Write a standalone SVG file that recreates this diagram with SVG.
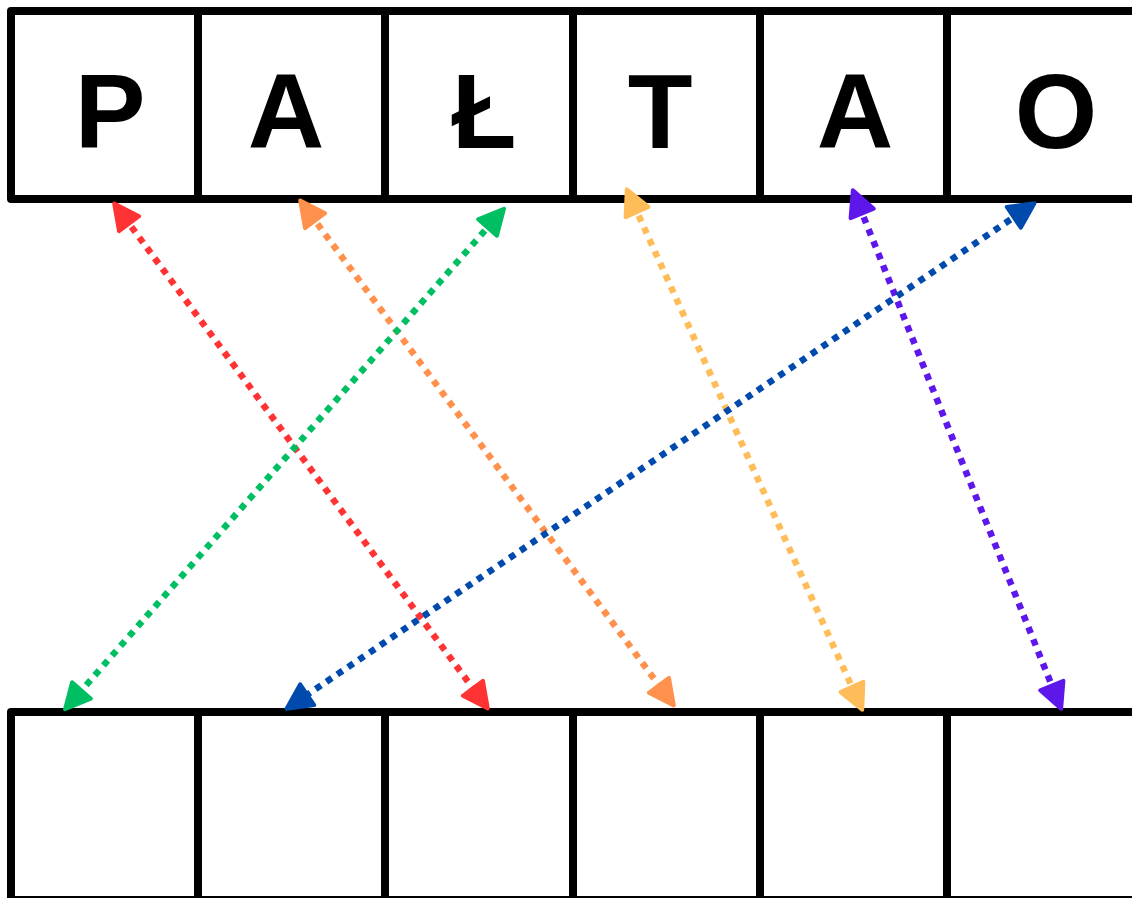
<svg xmlns="http://www.w3.org/2000/svg" width="1132" height="898" viewBox="0 0 1132 898">
<style>
.cell{fill:#fff;stroke:#000;stroke-width:8;stroke-linejoin:round}
.div{stroke:#000;stroke-width:8}
.let{font-family:"Liberation Sans",Arial,sans-serif;font-weight:bold;font-size:106px;text-anchor:middle;fill:#000}
.c{fill:none;stroke-width:6.5;stroke-dasharray:6.5 6.5}
</style>
<defs>
<marker id="mr" viewBox="-3 -3 31 31" refX="22" refY="12.5" markerWidth="31" markerHeight="31" markerUnits="userSpaceOnUse" orient="auto-start-reverse"><path d="M0,0 L25,12.5 L0,25 z" fill="#ff3333" stroke="#ff3333" stroke-width="4" stroke-linejoin="round"/></marker>
<marker id="mo" viewBox="-3 -3 31 31" refX="22" refY="12.5" markerWidth="31" markerHeight="31" markerUnits="userSpaceOnUse" orient="auto-start-reverse"><path d="M0,0 L25,12.5 L0,25 z" fill="#ff914d" stroke="#ff914d" stroke-width="4" stroke-linejoin="round"/></marker>
<marker id="mg" viewBox="-3 -3 31 31" refX="22" refY="12.5" markerWidth="31" markerHeight="31" markerUnits="userSpaceOnUse" orient="auto-start-reverse"><path d="M0,0 L25,12.5 L0,25 z" fill="#00bf63" stroke="#00bf63" stroke-width="4" stroke-linejoin="round"/></marker>
<marker id="my" viewBox="-3 -3 31 31" refX="22" refY="12.5" markerWidth="31" markerHeight="31" markerUnits="userSpaceOnUse" orient="auto-start-reverse"><path d="M0,0 L25,12.5 L0,25 z" fill="#ffbd59" stroke="#ffbd59" stroke-width="4" stroke-linejoin="round"/></marker>
<marker id="mp" viewBox="-3 -3 31 31" refX="22" refY="12.5" markerWidth="31" markerHeight="31" markerUnits="userSpaceOnUse" orient="auto-start-reverse"><path d="M0,0 L25,12.5 L0,25 z" fill="#5e17eb" stroke="#5e17eb" stroke-width="4" stroke-linejoin="round"/></marker>
<marker id="mb" viewBox="-3 -3 31 31" refX="22" refY="12.5" markerWidth="31" markerHeight="31" markerUnits="userSpaceOnUse" orient="auto-start-reverse"><path d="M0,0 L25,12.5 L0,25 z" fill="#004aad" stroke="#004aad" stroke-width="4" stroke-linejoin="round"/></marker>
</defs>
<rect width="1132" height="898" fill="#fff"/>
<g id="top-row">
<rect class="cell" x="11" y="11" width="1126" height="188"/>
<line class="div" x1="198" y1="11" x2="198" y2="199"/>
<line class="div" x1="385" y1="11" x2="385" y2="199"/>
<line class="div" x1="573" y1="11" x2="573" y2="199"/>
<line class="div" x1="760" y1="11" x2="760" y2="199"/>
<line class="div" x1="947" y1="11" x2="947" y2="199"/>
</g>
<g id="letter-P"><text class="let" x="110" y="148">P</text></g>
<g id="letter-A1"><text class="let" x="286" y="148">A</text></g>
<g id="letter-L"><text class="let" x="484" y="148">Ł</text></g>
<g id="letter-T"><text class="let" x="660" y="148">T</text></g>
<g id="letter-A2"><text class="let" x="855" y="148">A</text></g>
<g id="letter-O"><text class="let" x="1056" y="148">O</text></g>
<g id="bottom-row">
<rect class="cell" x="11" y="712" width="1126" height="188"/>
<line class="div" x1="198" y1="712" x2="198" y2="900"/>
<line class="div" x1="385" y1="712" x2="385" y2="900"/>
<line class="div" x1="573" y1="712" x2="573" y2="900"/>
<line class="div" x1="760" y1="712" x2="760" y2="900"/>
<line class="div" x1="947" y1="712" x2="947" y2="900"/>
</g>
<g id="connectors">
<line class="c" stroke="#ff3333" x1="116" y1="206" x2="486" y2="706" marker-start="url(#mr)" marker-end="url(#mr)"/>
<line class="c" stroke="#ff914d" x1="302" y1="203" x2="672" y2="703" marker-start="url(#mo)" marker-end="url(#mo)"/>
<line class="c" stroke="#00bf63" x1="502" y1="211" x2="67" y2="707" marker-start="url(#mg)" marker-end="url(#mg)"/>
<line class="c" stroke="#ffbd59" x1="628" y1="192" x2="861" y2="707" marker-start="url(#my)" marker-end="url(#my)"/>
<line class="c" stroke="#5e17eb" x1="854" y1="193" x2="1060" y2="706" marker-start="url(#mp)" marker-end="url(#mp)"/>
<line class="c" stroke="#004aad" x1="1032" y1="205" x2="289" y2="707" marker-start="url(#mb)" marker-end="url(#mb)"/>
</g>
</svg>
